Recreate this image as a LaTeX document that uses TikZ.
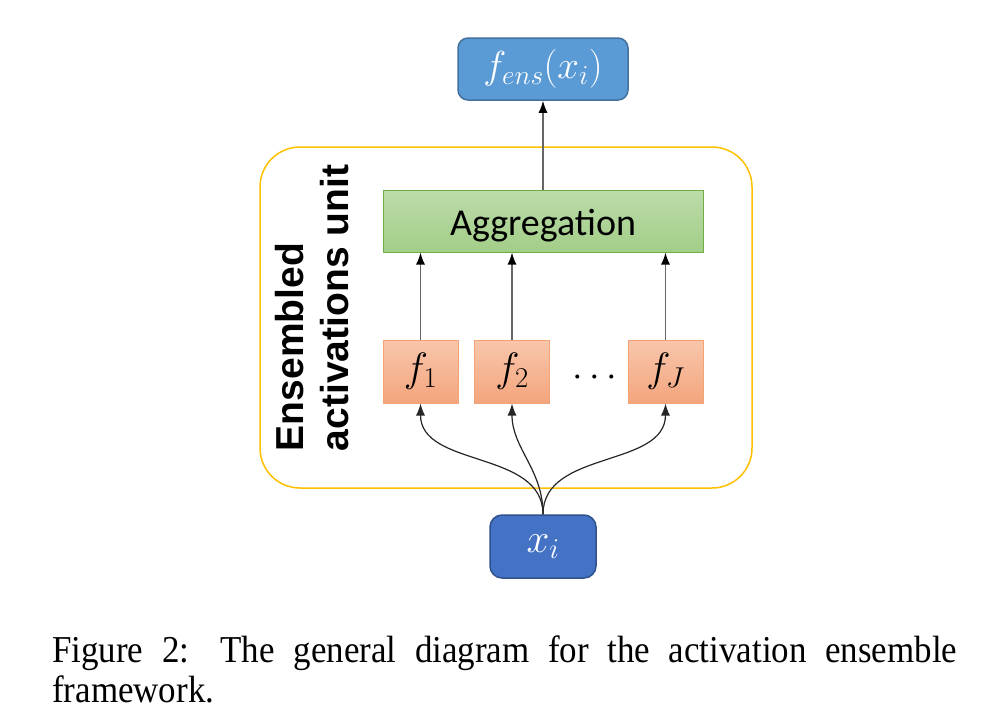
\RequirePackage{fix-cm}
\documentclass[tikz,border=0pt]{standalone}
\usepackage{amsmath}
\usepackage{fontspec}
\setmainfont{Liberation Serif}
\newfontfamily\aggfont{Carlito}
\newfontfamily\unitfont{Liberation Sans}
\newfontfamily\capfont[FakeStretch=0.92]{Liberation Serif}
\usetikzlibrary{arrows.meta}

\definecolor{outblue}{HTML}{5B9BD5}
\definecolor{outblueline}{HTML}{41719C}
\definecolor{inblue}{HTML}{4472C4}
\definecolor{inblueline}{HTML}{2F528F}
\definecolor{unitgold}{HTML}{FFC000}
\definecolor{agggreen}{HTML}{70AD47}
\definecolor{aggtop}{HTML}{BCDBAA}
\definecolor{aggbottom}{HTML}{A2CE87}
\definecolor{actline}{HTML}{F4A474}
\definecolor{acttop}{HTML}{F8C6AB}
\definecolor{actbottom}{HTML}{F4A57D}

\begin{document}
\begin{tikzpicture}[x=1pt, y=-1pt,
    every node/.style={inner sep=0pt},
    >={Latex[length=11pt, width=8pt]},
    outbox/.style={
        draw=outblueline,
        fill=outblue,
        line width=1.5pt,
        rounded corners=10pt,
        minimum width=170pt,
        minimum height=62pt,
        text=white,
        font=\fontsize{39}{44}\selectfont
        },
    inbox/.style={
        draw=inblueline,
        fill=inblue,
        line width=1.5pt,
        rounded corners=12pt,
        minimum width=106pt,
        minimum height=63pt,
        text=white,
        font=\fontsize{41}{44}\selectfont
        },
    aggbox/.style={
        draw=agggreen,
        top color=aggtop,
        bottom color=aggbottom,
        line width=1pt,
        minimum width=320pt,
        minimum height=62pt,
        text height=37pt,
        text depth=9pt,
        font=\aggfont\fontsize{38}{44}\selectfont
        },
    actbox/.style={
        draw=actline,
        top color=acttop,
        bottom color=actbottom,
        line width=1pt,
        minimum width=75pt,
        minimum height=63pt,
        font=\fontsize{41}{44}\selectfont
        },
    unitbox/.style={
        draw=unitgold,
        line width=1.5pt,
        rounded corners=40pt,
        minimum width=492pt,
        minimum height=341pt
        },
    flow/.style={
        draw=black!60,
        line width=1.3pt,
        -{Latex[length=12pt, width=9pt, black]}
        },
    spread/.style={
        draw=black!85,
        line width=1.2pt,
        -{Latex[length=12pt, width=9pt]}
        }]

    \useasboundingbox (0,0) rectangle (996,724);

    \node[unitbox] (unit) at (506,317.5) {};
    \node[rotate=90, align=left, font=\unitfont\bfseries\fontsize{39}{45}\selectfont] (unitlabel) at (312,308) {Ensembled\\activations unit};

    \node[outbox] (fens) at (543,69) {$f_{ens}(x_i)$};
    \node[aggbox] (agg) at (543,221) {Aggregation};

    \node[actbox] (f1) at (420.5,371.5) {$f_1$};
    \node[actbox] (f2) at (512,371.5) {$f_2$};
    \node[font=\fontsize{38}{44}\selectfont] (dots) at (598,378) {$\cdots$};
    \node[actbox] (fJ) at (665.5,371.5) {$f_J$};

    \node[inbox] (xi) at (543,546.5) {$x_i$};

    \draw[flow] (agg.north) -- (fens.south);

    \draw[flow] (f1.north) -- (f1.north |- agg.south);
    \draw[flow] (f2.north) -- (f2.north |- agg.south);
    \draw[flow] (fJ.north) -- (fJ.north |- agg.south);

    \draw[spread] (xi.north) to[out=90, in=-90] (f1.south);
    \draw[spread] (xi.north) to[out=90, in=-90] (f2.south);
    \draw[spread] (xi.north) to[out=90, in=-90] (fJ.south);

    \node[anchor=north west, text width=905pt, align=justify, font=\capfont\fontsize{38}{40}\selectfont] (caption) at (52,636) {Figure 2: The general diagram for the activation ensemble\linebreak framework.};

\end{tikzpicture}
\end{document}
